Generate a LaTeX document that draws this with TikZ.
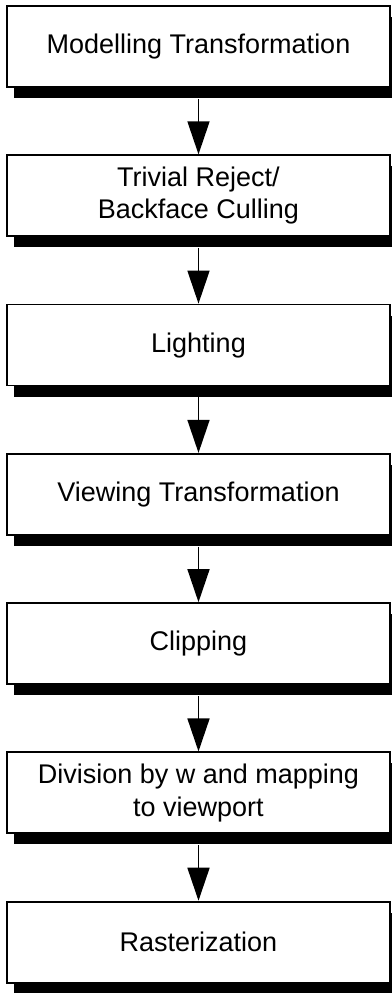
\documentclass[tikz,border=0pt]{standalone}
\usepackage{fontspec}
\setmainfont{Liberation Sans}
\usepackage{tikz}
\usetikzlibrary{arrows.meta, positioning, shadows}
\tikzstyle{stage} = [rectangle, minimum width=272.4pt, minimum height=57.6pt, text centered, align=center, draw=black, line width=1.3pt, fill=white, font=\fontsize{19.2}{23}\selectfont, drop shadow={shadow xshift=5pt, shadow yshift=-7.8pt, fill=black, opacity=1}]
\tikzstyle{arrow} = [line width=1.3pt, -{Triangle[width=15.6pt, length=23.5pt]}]

\begin{document}
\begin{tikzpicture}[x=0.025cm, y=0.025cm, node distance=3.731cm]
\useasboundingbox (0,0) rectangle (391,-993);
\node (model) [stage] at (198.5,-46.5) {Modelling Transformation};
\node (reject) [stage, below of=model] {Trivial Reject/\\Backface Culling};
\node (light) [stage, below of=reject] {Lighting};
\node (view) [stage, below of=light] {Viewing Transformation};
\node (clip) [stage, below of=view] {Clipping};
\node (divide) [stage, below of=clip] {Division by w and mapping\\to viewport};
\node (raster) [stage, below of=divide] {Rasterization};

\draw [arrow] ([yshift=-7.8pt]model.south) -- (reject.north);
\draw [arrow] ([yshift=-7.8pt]reject.south) -- (light.north);
\draw [arrow] ([yshift=-7.8pt]light.south) -- (view.north);
\draw [arrow] ([yshift=-7.8pt]view.south) -- (clip.north);
\draw [arrow] ([yshift=-7.8pt]clip.south) -- (divide.north);
\draw [arrow] ([yshift=-7.8pt]divide.south) -- (raster.north);
\end{tikzpicture}
\end{document}
